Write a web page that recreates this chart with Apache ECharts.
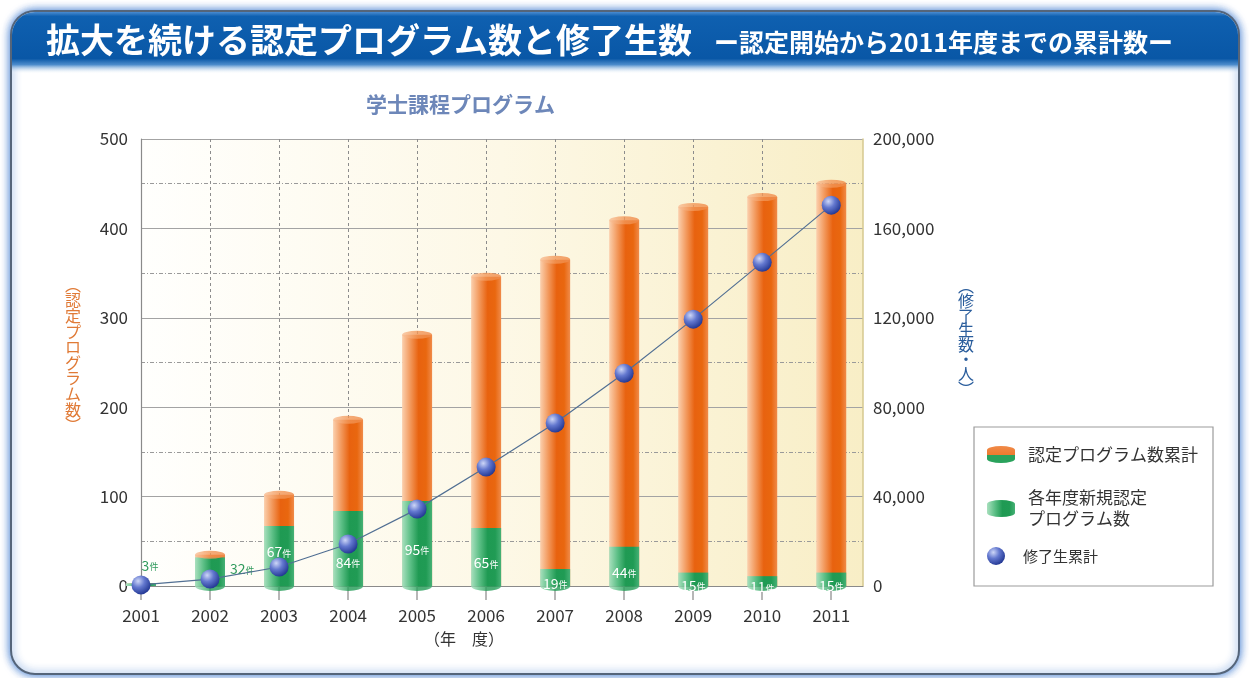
<!DOCTYPE html>
<html>
<head>
<meta charset="utf-8">
<title>拡大を続ける認定プログラム数と修了生数</title>
<script src="https://cdn.jsdelivr.net/npm/echarts@6/dist/echarts.min.js"></script>
<style>
  html, body { margin: 0; padding: 0; background: #fff; }
  #chart { width: 1249px; height: 678px; }
</style>
</head>
<body>
<div id="chart"></div>
<script>
// 年度
var years = [2001, 2002, 2003, 2004, 2005, 2006, 2007, 2008, 2009, 2010, 2011];
// 各年度新規認定プログラム数
var newPrograms = [3, 32, 67, 84, 95, 65, 19, 44, 15, 11, 15];
// 認定プログラム数累計
var totalPrograms = [3, 35, 102, 186, 281, 346, 365, 409, 424, 435, 450];
// 修了生累計（人）
var graduates = [500, 3100, 8500, 18800, 34400, 53200, 72900, 95200, 119400, 144800, 170400];

var FONT = '"Noto Sans CJK JP", "Noto Sans", sans-serif';

function hGrad(stops) {
  return new echarts.graphic.LinearGradient(0, 0, 1, 0, stops);
}
var orangeGrad = hGrad([
  { offset: 0, color: '#fbd0ae' },
  { offset: 0.28, color: '#f2975a' },
  { offset: 0.55, color: '#e8620f' },
  { offset: 0.8, color: '#e9670f' },
  { offset: 1, color: '#f08b4a' }
]);
var greenGrad = hGrad([
  { offset: 0, color: '#a9e0be' },
  { offset: 0.28, color: '#5cbf86' },
  { offset: 0.55, color: '#1f9a53' },
  { offset: 0.8, color: '#209b54' },
  { offset: 1, color: '#47b176' }
]);
var capGrad = hGrad([
  { offset: 0, color: '#f9c199' },
  { offset: 0.5, color: '#f29758' },
  { offset: 1, color: '#f08a48' }
]);
var dotGrad = {
  type: 'radial', x: 0.35, y: 0.3, r: 0.75,
  colorStops: [
    { offset: 0, color: '#cdd6f7' },
    { offset: 0.45, color: '#6378cf' },
    { offset: 1, color: '#1f3490' }
  ]
};

var ellipse = 'path://M0,5 A10,5 0 1 1 20,5 A10,5 0 1 1 0,5 Z';
var cylinder = 'path://M0,4 A14,4 0 0 1 28,4 L28,13 A14,4 0 0 1 0,13 Z';

// 緑（新規）は累計の棒に重ねる
var greenRich = { n: { color: '#2f9a5c' }, u: { color: '#2f9a5c' } };
var greenData = years.map(function (y, i) {
  var item = { value: [y, newPrograms[i]] };
  if (y === 2001) {
    item.label = { position: 'top', offset: [9, -6], rich: greenRich };
  } else if (y === 2002) {
    item.label = { position: 'right', offset: [0, -3], rich: greenRich };
  } else if (y === 2003) {
    item.label = { offset: [0, -4] };
  } else if (y === 2004) {
    item.label = { offset: [0, 14] };
  }
  return item;
});
var totalData = years.map(function (y, i) { return [y, totalPrograms[i]]; });
var capTop = years.slice(1).map(function (y, i) { return [y, totalPrograms[i + 1]]; });
var capBottom = years.slice(1).map(function (y) { return [y, 0]; });
var lineData = years.map(function (y, i) { return [y, graduates[i]]; });

var vname = function (s) { return s.split('').join('\n'); };

var chart = echarts.init(document.getElementById('chart'));
chart.setOption({
  animation: false,
  textStyle: { fontFamily: FONT },
  title: [
    {
      text: '拡大を続ける認定プログラム数と修了生数',
      left: 46, top: 23, padding: 0,
      textStyle: { color: '#fff', fontSize: 34, fontWeight: 'bold', fontFamily: FONT }
    },
    {
      text: 'ー認定開始から2011年度までの累計数ー',
      left: 714, top: 30, padding: 0,
      textStyle: { color: '#fff', fontSize: 25, fontWeight: 'bold', fontFamily: FONT }
    },
    {
      text: '学士課程プログラム',
      left: 366, top: 94, padding: 0,
      textStyle: { color: '#6d87b9', fontSize: 21, fontWeight: 'bold', fontFamily: FONT }
    },
    {
      text: '（年　度）',
      left: 424, top: 631, padding: 0,
      textStyle: { color: '#333', fontSize: 16, fontWeight: 'normal', fontFamily: FONT }
    },
    {
      text: vname('︵認定プログラム数︶'),
      left: 65, top: 277, padding: 0,
      textStyle: { color: '#e07a36', fontSize: 16, lineHeight: 15.6, fontWeight: 'normal', fontFamily: FONT }
    },
    {
      text: vname('︵修了生数・人︶'),
      left: 958, top: 279, padding: 0,
      textStyle: { color: '#2a5d9c', fontSize: 16, lineHeight: 14.6, fontWeight: 'normal', fontFamily: FONT }
    }
  ],
  graphic: [
    {
      type: 'rect', z: -10,
      shape: { x: 11, y: 11, width: 1228, height: 663, r: 24 },
      style: { fill: '#fff', stroke: '#55657a', lineWidth: 2,
        shadowBlur: 8, shadowColor: 'rgba(30,100,200,0.9)' }
    },
    {
      type: 'rect', z: -9,
      shape: { x: 12, y: 12, width: 1226, height: 62, r: [23, 23, 0, 0] },
      style: {
        fill: new echarts.graphic.LinearGradient(0, 0, 0, 1, [
          { offset: 0, color: '#4a8bd0' },
          { offset: 0.07, color: '#0f60b0' },
          { offset: 0.75, color: '#0957a6' },
          { offset: 0.85, color: '#4d8ccc' },
          { offset: 1, color: 'rgba(255,255,255,0)' }
        ])
      }
    },
    {
      type: 'rect', z: -5,
      shape: { x: 974, y: 427, width: 239, height: 159 },
      style: { fill: '#fff', stroke: '#9c9c9c', lineWidth: 1.2 }
    }
  ],
  legend: [
    {
      data: [{
        name: '認定プログラム数累計',
        itemStyle: {
          color: new echarts.graphic.LinearGradient(0, 0, 0, 1, [
            { offset: 0, color: '#f08a48' },
            { offset: 0.5, color: '#ee7a30' },
            { offset: 0.5, color: '#2aa25c' },
            { offset: 1, color: '#2aa25c' }
          ])
        }
      }],
      selectedMode: false,
      left: 987, top: 446, padding: 0,
      icon: cylinder, itemWidth: 28, itemHeight: 17,
      textStyle: { fontSize: 17, color: '#333', padding: [0, 0, 0, 8] }
    },
    {
      data: ['各年度新規認定プログラム数'],
      selectedMode: false,
      left: 987, top: 477, padding: 0,
      icon: cylinder, itemWidth: 28, itemHeight: 17,
      formatter: function (n) { return n.replace('認定', '認定\n'); },
      textStyle: { fontSize: 17, color: '#333', lineHeight: 21, padding: [21, 0, 0, 8] }
    },
    {
      data: ['修了生累計'],
      selectedMode: false,
      left: 987, top: 547, padding: 0,
      icon: 'circle', itemWidth: 28, itemHeight: 18,
      textStyle: { fontSize: 15, color: '#333', padding: [0, 0, 0, 8] }
    }
  ],
  grid: {
    left: 141, right: 386, top: 139, bottom: 92,
    show: true, borderWidth: 0,
    backgroundColor: hGrad([
      { offset: 0, color: '#fffffd' },
      { offset: 0.5, color: '#fdf8e6' },
      { offset: 1, color: '#f8eec6' }
    ])
  },
  xAxis: {
    type: 'value',
    min: 2001, max: 2011.46, interval: 1,
    axisLine: { show: true, lineStyle: { color: '#8a8a8a', width: 1 } },
    axisTick: { show: true, length: 14, customValues: years,
      lineStyle: { color: '#a0a0a0', width: 1.5 } },
    axisLabel: {
      customValues: years, margin: 21, fontSize: 17, color: '#333',
      formatter: function (v) { return v % 1 === 0 ? String(v) : ''; }
    },
    splitLine: { show: true, showMinLine: false, showMaxLine: false,
      lineStyle: { color: '#8c8c8c', type: [3, 3], width: 1 } }
  },
  yAxis: [
    {
      type: 'value', min: 0, max: 500, interval: 100,
      axisLine: { show: true, lineStyle: { color: '#8a8a8a', width: 1.2 } },
      axisTick: { show: false },
      axisLabel: { margin: 13, fontSize: 17, color: '#333' },
      splitLine: { lineStyle: { color: '#a3a3a3', width: 1.2 } },
      minorTick: { show: false, splitNumber: 2 },
      minorSplitLine: { show: true, lineStyle: { color: '#9a9a9a', type: [4, 2, 1, 2], width: 1 } }
    },
    {
      type: 'value', min: 0, max: 200000, interval: 40000,
      axisLine: { show: true, lineStyle: { color: '#d6c98f', width: 1.5 } },
      axisTick: { show: false },
      axisLabel: { margin: 10, fontSize: 17, color: '#333' },
      splitLine: { show: false }
    }
  ],
  series: [
    {
      name: '_capBottom', type: 'scatter', clip: false, z: 1,
      symbol: ellipse, symbolSize: [30, 10],
      itemStyle: { color: greenGrad },
      data: capBottom, silent: true
    },
    {
      name: '認定プログラム数累計', type: 'bar', z: 2,
      barWidth: 30, barGap: '-100%',
      itemStyle: { color: orangeGrad },
      data: totalData
    },
    {
      name: '各年度新規認定プログラム数', type: 'bar', z: 2,
      barWidth: 30, barGap: '-100%',
      itemStyle: { color: greenGrad },
      label: {
        show: true, position: 'inside', offset: [0, 6],
        formatter: function (p) { return '{n|' + p.value[1] + '}{u|件}'; },
        rich: {
          n: { fontSize: 14, color: '#fff', fontFamily: FONT },
          u: { fontSize: 9, color: '#fff', fontFamily: FONT, padding: [3, 0, 0, 0] }
        }
      },
      data: greenData
    },
    {
      name: '_capTop', type: 'scatter', clip: false, z: 3,
      symbol: ellipse, symbolSize: [30, 8],
      itemStyle: { color: capGrad },
      data: capTop, silent: true
    },
    {
      name: '修了生累計', type: 'line', yAxisIndex: 1, z: 5,
      symbol: 'circle', symbolSize: 19, showSymbol: true,
      lineStyle: { color: '#516f93', width: 1.2 },
      itemStyle: { color: dotGrad },
      data: lineData
    }
  ]
});
</script>
</body>
</html>
